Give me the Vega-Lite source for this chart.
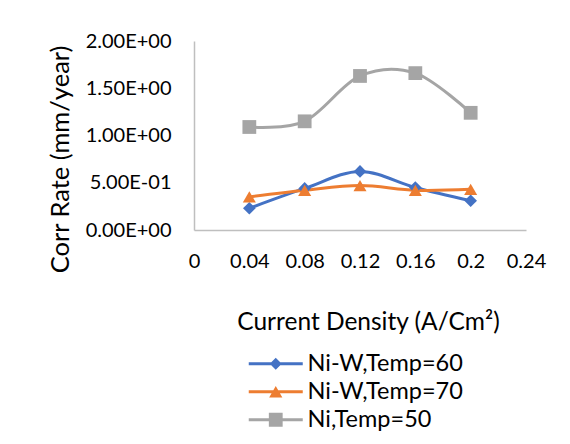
{
  "$schema": "https://vega.github.io/schema/vega-lite/v6.json",
  "width": 332,
  "height": 189,
  "autosize": {"type": "none"},
  "padding": {"left": 194, "top": 41, "right": 44, "bottom": 214},
  "config": {
    "view": {"stroke": null},
    "font": "Lato",
    "axis": {"labelColor": "#000000", "titleColor": "#000000", "titleFontWeight": "normal", "domainColor": "#BFBFBF", "domainWidth": 1.5, "ticks": false, "grid": false, "labelFlush": false, "labelOverlap": false}
  },
  "data": {
    "values": [
      {"cd": 0.04, "rate": 0.23, "series": "Ni-W,Temp=60"},
      {"cd": 0.08, "rate": 0.44, "series": "Ni-W,Temp=60"},
      {"cd": 0.12, "rate": 0.62, "series": "Ni-W,Temp=60"},
      {"cd": 0.16, "rate": 0.45, "series": "Ni-W,Temp=60"},
      {"cd": 0.2, "rate": 0.31, "series": "Ni-W,Temp=60"},
      {"cd": 0.04, "rate": 0.35, "series": "Ni-W,Temp=70"},
      {"cd": 0.08, "rate": 0.42, "series": "Ni-W,Temp=70"},
      {"cd": 0.12, "rate": 0.47, "series": "Ni-W,Temp=70"},
      {"cd": 0.16, "rate": 0.42, "series": "Ni-W,Temp=70"},
      {"cd": 0.2, "rate": 0.43, "series": "Ni-W,Temp=70"},
      {"cd": 0.04, "rate": 1.09, "series": "Ni,Temp=50"},
      {"cd": 0.08, "rate": 1.15, "series": "Ni,Temp=50"},
      {"cd": 0.12, "rate": 1.63, "series": "Ni,Temp=50"},
      {"cd": 0.16, "rate": 1.66, "series": "Ni,Temp=50"},
      {"cd": 0.2, "rate": 1.24, "series": "Ni,Temp=50"}
    ]
  },
  "encoding": {
    "x": {
      "field": "cd", "type": "quantitative",
      "scale": {"domain": [0, 0.24], "nice": false, "zero": false},
      "axis": {
        "values": [0, 0.04, 0.08, 0.12, 0.16, 0.2, 0.24],
        "format": "~g",
        "title": "Current Density (A/Cm²)",
        "labelFontSize": 20, "labelPadding": 21,
        "titleFontSize": 24.5, "titleX": 174, "titleY": 99, "titleBaseline": "alphabetic", "titleAnchor": "middle"
      }
    },
    "y": {
      "field": "rate", "type": "quantitative",
      "scale": {"domain": [0, 2], "nice": false},
      "axis": {
        "values": [0, 0.5, 1, 1.5, 2],
        "labelExpr": "replace(replace(format(datum.value,'.2e'),'e+','E+0'),'e-','E-0')",
        "title": "Corr Rate (mm/year)",
        "labelFontSize": 20, "labelPadding": 23,
        "titleFontSize": 25.5, "titleX": -134, "titleY": 118, "titleBaseline": "middle", "titleAlign": "center", "titleAnchor": "middle"
      }
    },
    "color": {
      "field": "series", "type": "nominal",
      "sort": ["Ni-W,Temp=60", "Ni-W,Temp=70", "Ni,Temp=50"],
      "scale": {"domain": ["Ni-W,Temp=60", "Ni-W,Temp=70", "Ni,Temp=50"], "range": ["#4472C4", "#ED7D31", "#A5A5A5"]},
      "legend": {
        "orient": "none", "legendX": 70, "legendY": 311, "title": null,
        "labelFontSize": 23.5, "labelOffset": 20, "rowPadding": 3, "padding": 0, "labelLimit": 300,
        "symbolSize": 144,
        "encode": {
          "symbols": {
            "update": {
              "shape": {"signal": "datum.value === 'Ni-W,Temp=60' ? 'M-4.5,-0.25H4.5V0.25H-4.5Z M-1,0L0,-1L1,0L0,1Z' : datum.value === 'Ni-W,Temp=70' ? 'M-4.5,-0.25H4.5V0.25H-4.5Z M0,-0.95L1.1,0.95L-1.1,0.95Z' : 'M-4.5,-0.25H4.5V0.25H-4.5Z M-1.15,-1.15H1.15V1.15H-1.15Z'"},
              "fill": {"signal": "scale('color', datum.value)"},
              "strokeWidth": {"value": 0},
              "opacity": {"value": 1},
              "fillOpacity": {"value": 1}
            }
          }
        }
      }
    }
  },
  "layer": [
    {"mark": {"type": "line", "interpolate": "cardinal", "strokeWidth": 3}},
    {
      "transform": [{"filter": "datum.series === 'Ni-W,Temp=60'"}],
      "mark": {"type": "point", "filled": true, "opacity": 1, "shape": "diamond", "size": 160}
    },
    {
      "transform": [{"filter": "datum.series === 'Ni-W,Temp=70'"}],
      "mark": {"type": "point", "filled": true, "opacity": 1, "shape": "triangle-up", "size": 170}
    },
    {
      "transform": [{"filter": "datum.series === 'Ni,Temp=50'"}],
      "mark": {"type": "point", "filled": true, "opacity": 1, "shape": "square", "size": 190}
    }
  ]
}
